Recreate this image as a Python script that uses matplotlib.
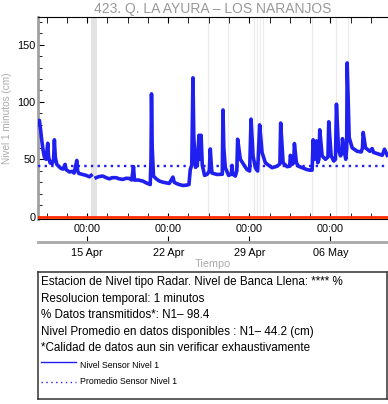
import datetime as dt

import matplotlib
matplotlib.use("Agg")
import matplotlib.pyplot as plt
import matplotlib.dates as mdates
import numpy as np

plt.rcParams['font.family'] = ['Liberation Sans', 'DejaVu Sans']

# time in days since 15 Apr 00:00, level in cm
base = dt.datetime(2023, 4, 15)
dias = [-4.209, -4.123, -4.019, -3.933, -3.803, -3.691, -3.544, -3.397, -3.328, -3.198,
        -3.025, -2.895, -2.826, -2.748, -2.619, -2.463, -2.247, -2.074, -1.901, -1.815,
        -1.530, -1.296, -1.124, -0.890, -0.821, -0.717, -0.372, -0.086, 0.199, 0.346,
        0.5, 0.778, 1.037, 1.357, 1.642, 1.927, 2.161, 2.506, 2.766, 3.086,
        3.371, 3.656, 3.846, 4.002, 4.088, 4.408, 4.814, 5.099, 5.445, 5.514,
        5.557, 5.618, 5.730, 5.964, 6.249, 6.569, 6.828, 7.087, 7.407, 7.519,
        7.692, 7.951, 8.271, 8.557, 8.790, 8.902, 9.032, 9.136, 9.205, 9.360,
        9.507, 9.654, 9.749, 9.836, 9.939, 10.138, 10.372, 10.544, 10.631, 10.717,
        10.778, 11.210, 11.668, 11.729, 11.798, 11.927, 12.213, 12.446, 12.506, 12.576,
        12.792, 12.921, 12.991, 13.224, 13.509, 13.803, 14.028, 14.149, 14.321, 14.520,
        14.719, 14.892, 15.099, 15.385, 15.644, 15.964, 16.396, 16.638, 16.707, 16.915,
        17.260, 17.485, 17.545, 17.692, 17.831, 17.891, 18.064, 18.237, 18.557, 18.989,
        19.274, 19.421, 19.507, 19.620, 19.793, 19.905, 20.009, 20.078, 20.285, 20.570,
        20.786, 20.856, 21.063, 21.288, 21.435, 21.521, 21.694, 21.867, 21.979, 22.040,
        22.213, 22.325, 22.403, 22.446, 22.619, 22.878, 23.310, 23.656, 23.769, 23.829,
        24.027, 24.399, 24.606, 24.719, 25.038, 25.471, 25.669, 25.903]
nivel = [80, 84, 76, 68, 58, 52, 50, 64, 52, 47,
         46, 50, 67, 52, 45.6, 44, 42, 41.5, 45.6, 41,
         39, 39.5, 38, 49, 40, 37.7, 36.8, 36, 34.8, 36,
         np.nan, 34, 35, 35.4, 34, 33, 34, 34, 33, 32.5,
         33.5, 33.3, 32, 43.6, 31.9, 32, 31, 29.5, 28, 50,
         107, 60, 35.4, 33, 31, 30, 29.5, 29, 34.5, 30,
         29, 28, 27.2, 27.5, 28, 41, 45, 121, 70, 43,
         45, 71, 50, 71, 45, 36, 37, 40, 59, 45,
         38, 36.8, 37, 93, 60, 42.7, 36, 37, 44.7, 37,
         35.4, 40, 67.5, 50, 45.6, 41, 39.8, 85, 53, 42.7,
         39.8, 80, 56, 47, 45, 42.7, 44, 46, 81.6, 47,
         43.6, 44, 53.5, 45.6, 47, 63.7, 47, 44, 42.7, 41,
         40.5, 40.6, 67, 50, 66, 47, 50, 75.7, 53, 50,
         52, 82.7, 53, 48.5, 50, 98, 58.8, 53, 55, 68,
         56, 50, 60, 134, 69, 60, 57, 56.4, 60, 73.4,
         60, 57, 59.4, 56, 55, 53.5, 58.8, 53.5]
promedio = 44.2

# missing-data marks (days since 15 Apr)
hueco_ini, hueco_fin = 0.35, 0.82
faltantes = [10.46, 12.19, 14.43, 14.69, 14.95, 15.21, 19.45, 21.52, 22.56]

t0, t1 = -4.24, 25.97
semanas = [0, 7, 14, 21]

tiempos = [base + dt.timedelta(days=d) for d in dias]
to_dt = lambda d: base + dt.timedelta(days=d)

fig = plt.figure(figsize=(3.88, 4.04), dpi=100)
ax = fig.add_axes([38 / 388, 1 - 219 / 404, 350 / 388, 202 / 404])

ax.axvspan(to_dt(hueco_ini), to_dt(hueco_fin), color='#e3e3e3', lw=0, zorder=1)
for f in faltantes:
    ax.axvline(to_dt(f), color='#ebebeb', lw=0.8, zorder=1)

ax.plot(tiempos, nivel, color='#1f1ff0', lw=2.6, zorder=3, solid_joinstyle='round')
ax.plot([to_dt(t0), to_dt(t1)], [promedio, promedio], color='#1f1ff0', lw=1.7,
        linestyle=(0, (1, 1.8)), zorder=3)
ax.plot([to_dt(t0), to_dt(t1)], [0, 0], color='#ff2a00', lw=2.0, zorder=4)

ax.set_xlim(to_dt(t0), to_dt(t1))
ax.set_ylim(-2, 174)
ax.set_yticks([0, 50, 100, 150])
ax.set_yticks(np.arange(10, 174, 10), minor=True)

ax.set_xticks([to_dt(s) for s in semanas])
ax.set_xticks([to_dt(s + k * 1.75) for s in [-7, 0, 7, 14, 21] for k in range(4)
               if t0 < s + k * 1.75 < t1], minor=True)
ax.xaxis.set_major_formatter(mdates.DateFormatter('%H:%M'))

ax.tick_params(axis='both', which='both', direction='in', top=True, labelsize=7.8,
               pad=4)
ax.tick_params(axis='y', which='major', length=4, pad=2)
ax.tick_params(axis='y', which='minor', length=3)
ax.tick_params(axis='x', which='major', length=4, pad=3.5)
ax.tick_params(axis='x', which='minor', length=4)

ax.spines['left'].set_color('#a0a0a0')
ax.spines['left'].set_linewidth(2)
ax.spines['right'].set_visible(False)
for s in ['top', 'bottom']:
    ax.spines[s].set_linewidth(0.8)

sec = ax.secondary_xaxis(-0.114)
sec.set_xticks([to_dt(s) for s in semanas])
sec.xaxis.set_major_formatter(mdates.DateFormatter('%d %b'))
sec.tick_params(direction='in', length=4, labelsize=7.8, pad=4)
sec.spines['bottom'].set_color('#a8a8a8')
sec.spines['bottom'].set_linewidth(2)

ax.set_title('423. Q. LA AYURA \u2013 LOS NARANJOS', color='#999999', fontsize=10, pad=3)
ax.set_ylabel('Nivel 1 minutos (cm)', color='#aaaaaa', fontsize=7.2)
ax.yaxis.set_label_coords(-0.074, 0.5)
fig.text(213 / 388, 1 - 264 / 404, 'Tiempo', color='#aaaaaa', fontsize=7.8,
         ha='center', va='center')

# text box
bx = fig.add_axes([37.5 / 388, 1 - 399 / 404, 349 / 388, 127 / 404])
bx.set_xlim(0, 349)
bx.set_ylim(127, 0)
bx.set_xticks([])
bx.set_yticks([])
for s in bx.spines.values():
    s.set_linewidth(1.1)
    s.set_color('#333333')

lineas = ['Estacion de Nivel tipo Radar. Nivel de Banca Llena: **** %',
          'Resolucion temporal: 1 minutos',
          '% Datos transmitidos*: N1\u2013 98.4',
          'Nivel Promedio en datos disponibles : N1\u2013 44.2 (cm)',
          '*Calidad de datos aun sin verificar exhaustivamente']
for i, txt in enumerate(lineas):
    bx.text(3.5, 10 + i * 16.6, txt, fontsize=8.35, va='center', ha='left')

bx.plot([3.5, 38.5], [89.5, 89.5], color='#1f1ff0', lw=1.0)
bx.text(42, 93, 'Nivel Sensor Nivel 1', fontsize=6.3, va='center')
bx.plot([3.5, 38.5], [110, 110], color='#1f1ff0', lw=1.0, linestyle=(0, (1, 2.5)))
bx.text(42, 110, 'Promedio Sensor Nivel 1', fontsize=6.3, va='center')

fig.savefig('out.png', dpi=100)
